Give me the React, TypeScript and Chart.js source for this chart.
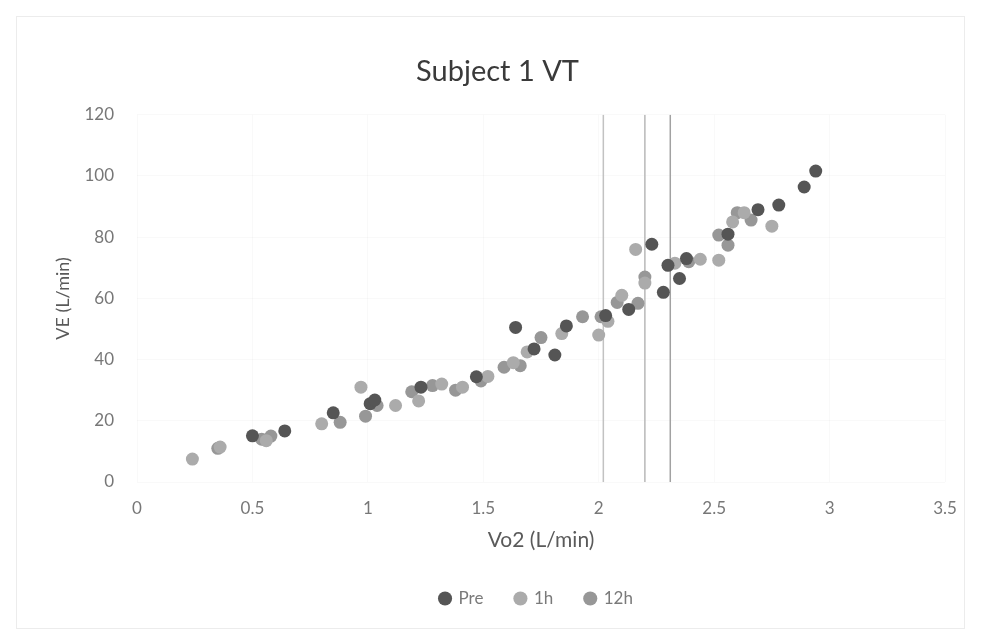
import React, { useEffect, useRef } from "react";
import { Chart, registerables } from "chart.js";

Chart.register(...registerables);

const TITLE = "Subject 1 VT";
const X_TITLE = "Vo2 (L/min)";
const Y_TITLE = "VE (L/min)";

const preX = [0.50, 0.64, 0.85, 1.01, 1.03, 1.23, 1.47, 1.64, 1.72, 1.81, 1.86, 2.03, 2.13, 2.23, 2.28, 2.30, 2.35, 2.38, 2.56, 2.69, 2.78, 2.89, 2.94];
const preY = [15.1, 16.7, 22.6, 25.6, 26.8, 31.0, 34.4, 50.5, 43.5, 41.5, 51.0, 54.4, 56.4, 77.7, 62.0, 70.8, 66.5, 73.0, 81.0, 89.0, 90.5, 96.4, 101.6];

const h1X = [0.24, 0.36, 0.56, 0.80, 0.97, 1.12, 1.22, 1.32, 1.41, 1.52, 1.63, 1.69, 1.84, 2.00, 2.04, 2.10, 2.16, 2.20, 2.33, 2.44, 2.52, 2.58, 2.63, 2.75];
const h1Y = [7.5, 11.4, 13.5, 19.0, 31.0, 25.0, 26.5, 32.0, 31.0, 34.5, 39.0, 42.5, 48.5, 48.0, 52.5, 61.0, 76.0, 65.0, 71.5, 72.8, 72.5, 85.0, 88.0, 83.6];

const h12X = [0.35, 0.54, 0.58, 0.88, 0.99, 1.04, 1.19, 1.28, 1.38, 1.49, 1.59, 1.66, 1.75, 1.93, 2.01, 2.08, 2.17, 2.20, 2.39, 2.52, 2.56, 2.60, 2.66];
const h12Y = [11.0, 14.0, 15.0, 19.5, 21.5, 25.0, 29.5, 31.5, 30.0, 33.0, 37.5, 38.0, 47.2, 54.0, 54.0, 58.7, 58.4, 67.0, 72.0, 80.7, 77.4, 88.0, 85.6];

const vtLinesX = [2.02, 2.2, 2.31];
const vtRangeY = [0, 120];

const X_MAX = 3.5;
const Y_MAX = 120;

const toPts = (xs: number[], ys: number[]) => xs.map((x, i) => ({ x, y: ys[i] }));

export default function App() {
  const ref = useRef<HTMLCanvasElement | null>(null);

  useEffect(() => {
    if (!ref.current) return;
    const lineColors = ["#c2c2c2", "#b8b8b8", "#a2a2a2"];
    const lineSets = vtLinesX.map((x, i) => ({
      label: "VT" + (i + 1),
      data: vtRangeY.map((y) => ({ x, y })),
      showLine: true,
      borderColor: lineColors[i],
      borderWidth: 1.5,
      pointRadius: 0,
      pointHoverRadius: 0,
      order: 10,
    }));
    const pointSet = (label: string, xs: number[], ys: number[], color: string) => ({
      label,
      data: toPts(xs, ys),
      backgroundColor: color,
      borderColor: color,
      borderWidth: 0,
      pointRadius: 6.5,
      pointStyle: "circle",
      showLine: false,
      order: 1,
    });
    const frame = {
      id: "frame",
      beforeDraw(chart: any) {
        const c = chart.ctx;
        c.save();
        c.fillStyle = "#ffffff";
        c.fillRect(0, 0, chart.width, chart.height);
        c.strokeStyle = "#ececec";
        c.lineWidth = 1;
        c.strokeRect(16.5, 16.5, chart.width - 33, chart.height - 24);
        c.restore();
      },
      afterLayout(chart: any) {
        const t = chart.titleBlock;
        if (t) { t.left += 25; t.right += 25; }
        const l = chart.legend;
        if (l) { l.left += 64; l.right += 64; }
      },
    };
    const chart = new Chart(ref.current, {
      type: "scatter",
      data: {
        datasets: [
          pointSet("Pre", preX, preY, "#555555"),
          pointSet("1h", h1X, h1Y, "#ababab"),
          pointSet("12h", h12X, h12Y, "#979797"),
          ...lineSets,
        ] as any,
      },
      options: {
        animation: false,
        responsive: false,
        maintainAspectRatio: false,
        layout: { padding: { left: 0, right: 36, top: 0, bottom: 19 } },
        plugins: {
          title: {
            display: true,
            text: TITLE,
            color: "#3a3a3a",
            font: { family: "Lato", size: 29, weight: "normal" },
            padding: { top: 54, bottom: 26 },
          },
          legend: {
            position: "bottom",
            labels: {
              usePointStyle: true,
              pointStyle: "circle",
              boxWidth: 10,
              boxHeight: 10,
              color: "#7a7a7a",
              font: { family: "Lato", size: 17 },
              padding: 32,
              filter: (item: any) => !String(item.text).startsWith("VT"),
            },
          },
          tooltip: { enabled: false },
        },
        scales: {
          x: {
            type: "linear",
            min: 0,
            max: X_MAX,
            afterFit: (s: any) => { s.height = 76; },
            ticks: {
              stepSize: 0.5,
              color: "#777777",
              font: { family: "Lato", size: 17 },
              padding: 16,
              maxRotation: 0,
              callback: (v: any) => String(Number(v)),
            },
            grid: { color: "rgba(0,0,0,0.025)", drawTicks: false },
            border: { display: false },
            title: {
              display: true,
              text: X_TITLE,
              color: "#5a5a5a",
              font: { family: "Lato", size: 21 },
              padding: { top: 0, bottom: 5 },
            },
          },
          y: {
            type: "linear",
            min: 0,
            max: Y_MAX,
            afterFit: (s: any) => { s.width = 137; },
            ticks: {
              stepSize: 20,
              color: "#777777",
              font: { family: "Lato", size: 17 },
              padding: 23,
            },
            grid: { color: "rgba(0,0,0,0.025)", drawTicks: false },
            border: { display: false },
            title: {
              display: true,
              text: Y_TITLE,
              color: "#5a5a5a",
              font: { family: "Lato", size: 18 },
              padding: { top: 52, bottom: 0 },
            },
          },
        },
      } as any,
      plugins: [frame],
    });
    return () => chart.destroy();
  }, []);

  return (
    <div style={{ position: "fixed", left: 0, top: 0, width: 981, height: 636, background: "#fff" }}>
      <canvas ref={ref} width={981} height={636} style={{ width: 981, height: 636, display: "block" }} />
    </div>
  );
}
